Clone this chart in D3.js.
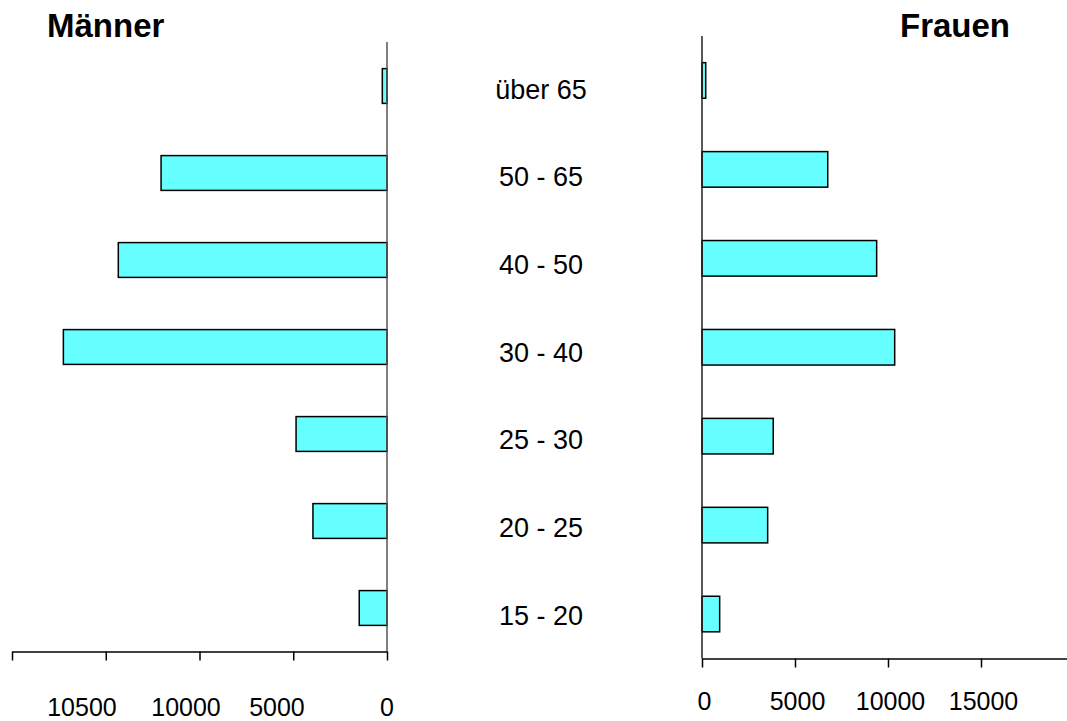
<!DOCTYPE html>
<html>
<head>
<meta charset="utf-8">
<title>Männer / Frauen</title>
<style>
  body { margin: 0; background: #fff; }
  svg { font-family: "Liberation Sans", Arial, sans-serif; }
  .axis path, .axis line { stroke: #000; stroke-width: 1.5px; }
  .axis text { font-size: 25px; fill: #000; }
  .bar { fill: #66ffff; stroke: #000; stroke-width: 1.5px; }
</style>
</head>
<body>
<svg width="1067" height="721"></svg>
<script src="https://d3js.org/d3.v7.min.js"></script>
<script>

// age groups, top to bottom
var groups = ["über 65", "50 - 65", "40 - 50", "30 - 40", "25 - 30", "20 - 25", "15 - 20"];

// values
var maenner = [250, 12050, 14330, 17260, 4850, 3950, 1480];
var frauen  = [200, 6760, 9390, 10360, 3830, 3530, 950];

// tick marks of both axes
var tickValues = [0, 5000, 10000, 15000, 20000];
// left axis labels as printed in the original, and where they sit (in axis units)
var leftLabels   = ["0", "5000", "10000", "10500"];
var leftLabelsAt = [0, 5870, 10720, 16270];
var rightLabels  = [0, 5000, 10000, 15000];

var svg = d3.select("svg");

// ---- left panel (Männer)
var xL = d3.scaleLinear().domain([0, 20000]).range([387, 12]);
var yL = d3.scaleBand().domain(groups).range([42.5, 651.5])
    .paddingInner(0.6).paddingOuter(0.3);

svg.selectAll(".barL")
  .data(groups)
  .enter().append("rect")
    .attr("class", "bar barL")
    .attr("x", function(d, i) { return xL(maenner[i]); })
    .attr("y", function(d) { return yL(d); })
    .attr("width", function(d, i) { return xL(0) - xL(maenner[i]); })
    .attr("height", yL.bandwidth());

svg.append("line")
    .attr("x1", xL(0)).attr("x2", xL(0))
    .attr("y1", 42).attr("y2", 651.5)
    .attr("stroke", "#555").attr("stroke-width", 1.5);

var gL = svg.append("g")
    .attr("class", "axis")
    .attr("transform", "translate(0,651.5)")
    .call(d3.axisBottom(xL).tickValues(tickValues).tickSize(9).tickSizeOuter(0).tickFormat(""));

gL.selectAll(".tick text").remove();

gL.selectAll(".lbl")
  .data(leftLabels)
  .enter().append("text")
    .attr("x", function(d, i) { return xL(leftLabelsAt[i]); })
    .attr("y", 64)
    .attr("text-anchor", "middle")
    .text(function(d) { return d; });

// ---- right panel (Frauen)
var xR = d3.scaleLinear().domain([0, 20000]).range([702, 1074]);
var yR = d3.scaleBand().domain(groups).range([36, 658.5])
    .paddingInner(0.6).paddingOuter(0.3);

svg.selectAll(".barR")
  .data(groups)
  .enter().append("rect")
    .attr("class", "bar barR")
    .attr("x", xR(0))
    .attr("y", function(d) { return yR(d); })
    .attr("width", function(d, i) { return xR(frauen[i]) - xR(0); })
    .attr("height", yR.bandwidth());

svg.append("line")
    .attr("x1", xR(0)).attr("x2", xR(0))
    .attr("y1", 36).attr("y2", 658.5)
    .attr("stroke", "#222").attr("stroke-width", 1.5);

var gR = svg.append("g")
    .attr("class", "axis")
    .attr("transform", "translate(0,658.5)")
    .call(d3.axisBottom(xR).tickValues(tickValues).tickSize(9).tickSizeOuter(0)
      .tickFormat(function(d) { return rightLabels.indexOf(d) >= 0 ? String(d) : ""; }));

gR.selectAll(".tick text").attr("y", 34).attr("dy", "0.71em").attr("dx", 2);

// ---- age group labels in the middle
var yM = d3.scaleBand().domain(groups).range([45.2, 658.8]);

svg.selectAll(".grp")
  .data(groups)
  .enter().append("text")
    .attr("class", "grp")
    .attr("x", 541)
    .attr("y", function(d) { return yM(d) + yM.bandwidth() / 2; })
    .attr("dy", "0.36em")
    .attr("text-anchor", "middle")
    .attr("font-size", 27)
    .text(function(d) { return d; });

// ---- titles
svg.append("text")
    .attr("x", 47).attr("y", 37)
    .attr("font-size", 33).attr("font-weight", "bold")
    .text("Männer");

svg.append("text")
    .attr("x", 900).attr("y", 37)
    .attr("font-size", 33).attr("font-weight", "bold")
    .text("Frauen");

</script>
</body>
</html>
